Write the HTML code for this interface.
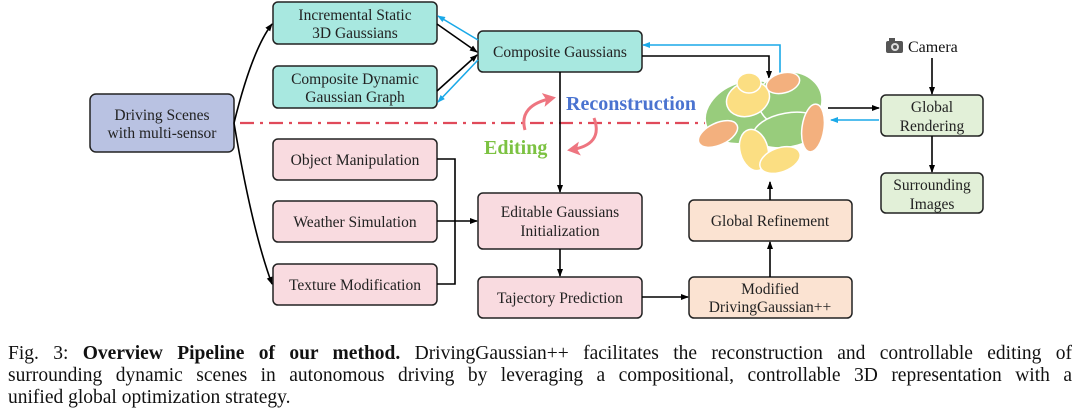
<!DOCTYPE html>
<html><head><meta charset="utf-8"><style>
html,body{margin:0;padding:0;background:#fff;width:1080px;height:418px;overflow:hidden}
svg text{font-family:"Liberation Serif",serif}
.cap{position:absolute;left:8px;top:343px;width:1064px;font-family:"Liberation Serif",serif;font-size:19.5px;line-height:22px;color:#111}
.cap div{white-space:nowrap}
.j{text-align:justify;text-align-last:justify}
</style></head><body>
<svg width="1080" height="340" style="position:absolute;left:0;top:0" xmlns="http://www.w3.org/2000/svg">
<defs>
<marker id="ak" markerWidth="8" markerHeight="8" refX="7" refY="4" orient="auto" markerUnits="userSpaceOnUse"><path d="M0,1 L8,4 L0,7 Z" fill="#000"/></marker>
<marker id="ab" markerWidth="8" markerHeight="8" refX="7" refY="4" orient="auto" markerUnits="userSpaceOnUse"><path d="M0,1 L8,4 L0,7 Z" fill="#1aa9e8"/></marker>
<marker id="ar" markerWidth="14" markerHeight="14" refX="10" refY="7" orient="auto" markerUnits="userSpaceOnUse"><path d="M0,0 L13,7 L0,14 L3,7 Z" fill="#ee7580"/></marker>
</defs>
<g stroke="#222" stroke-width="1.5">
<rect x="90" y="94" width="144" height="58" rx="6" fill="#b9c2e2"/>
<rect x="273" y="2" width="164" height="42" rx="5" fill="#a8e8e0"/>
<rect x="273" y="66" width="164" height="42" rx="5" fill="#a8e8e0"/>
<rect x="478" y="31" width="164" height="41" rx="5" fill="#a8e8e0"/>
<rect x="273" y="139" width="164" height="41" rx="5" fill="#f9dbe0"/>
<rect x="273" y="201" width="164" height="41" rx="5" fill="#f9dbe0"/>
<rect x="273" y="264" width="164" height="41" rx="5" fill="#f9dbe0"/>
<rect x="478" y="193" width="164" height="56" rx="5" fill="#f9dbe0"/>
<rect x="478" y="277" width="164" height="41" rx="5" fill="#f9dbe0"/>
<rect x="689" y="200" width="163" height="41" rx="5" fill="#fbe3d2"/>
<rect x="689" y="277" width="163" height="41" rx="5" fill="#fbe3d2"/>
<rect x="881" y="95" width="102" height="41" rx="5" fill="#e2f0d8"/>
<rect x="881" y="173" width="102" height="40" rx="5" fill="#e2f0d8"/>
</g>
<line x1="240" y1="123" x2="705" y2="123" stroke="#e04a5a" stroke-width="2.2" stroke-dasharray="14,6,3,6"/>
<g fill="none" stroke="#000" stroke-width="1.6">
<path d="M234,123 Q252,50 272,24" marker-end="url(#ak)"/>
<path d="M234,123 Q252,230 272,284" marker-end="url(#ak)"/>
<path d="M437,24 L477,52" marker-end="url(#ak)"/>
<path d="M437,91 L477,55" marker-end="url(#ak)"/>
<path d="M642,56 L769,56 L769,78" marker-end="url(#ak)"/>
<path d="M560,72 L560,192" marker-end="url(#ak)"/>
<path d="M437,159 L455,159 L455,284 L437,284"/>
<path d="M437,221 L477,221" marker-end="url(#ak)"/>
<path d="M560,249 L560,276" marker-end="url(#ak)"/>
<path d="M642,297 L688,297" marker-end="url(#ak)"/>
<path d="M770,277 L770,242" marker-end="url(#ak)"/>
<path d="M770,200 L770,182" marker-end="url(#ak)"/>
<path d="M828,108 L879,108" marker-end="url(#ak)"/>
<path d="M932,58 L932,94" marker-end="url(#ak)"/>
<path d="M932,136 L932,172" marker-end="url(#ak)"/>
</g>
<g fill="none" stroke="#1aa9e8" stroke-width="1.6">
<path d="M478,40 L438,16" marker-end="url(#ab)"/>
<path d="M478,60 L438,102" marker-end="url(#ab)"/>
<path d="M780,75 L780,45 L643,45" marker-end="url(#ab)"/>
<path d="M879,120 L831,120" marker-end="url(#ab)"/>
</g>
<path d="M525,130 Q518,105 553,98" fill="none" stroke="#ee7580" stroke-width="3" marker-end="url(#ar)"/>
<path d="M594,118 Q604,145 570,150" fill="none" stroke="#ee7580" stroke-width="3" marker-end="url(#ar)"/>
<text x="566" y="110" font-size="20" font-weight="bold" fill="#4a73d0">Reconstruction</text>
<text x="484" y="154" font-size="20" font-weight="bold" fill="#7cc242">Editing</text>
<g stroke="#fff" stroke-width="1.5">
<ellipse cx="746" cy="112" rx="42" ry="30" fill="#98cc7c" transform="rotate(-20 746 112)"/>
<ellipse cx="790" cy="100" rx="32" ry="28" fill="#98cc7c"/>
<ellipse cx="788" cy="130" rx="35" ry="17" fill="#98cc7c" transform="rotate(-10 788 130)"/>
<ellipse cx="748" cy="99" rx="17" ry="22" fill="#fbde82" transform="rotate(70 748 99)"/>
<ellipse cx="749" cy="83" rx="12" ry="10" fill="#fbde82"/>
<ellipse cx="783" cy="83" rx="17" ry="10" fill="#f3b07e" transform="rotate(-15 783 83)"/>
<ellipse cx="813" cy="128" rx="11" ry="24" fill="#f3b07e" transform="rotate(8 813 128)"/>
<ellipse cx="718" cy="134" rx="21" ry="11" fill="#f3b07e" transform="rotate(-25 718 134)"/>
<ellipse cx="754" cy="150" rx="14" ry="21" fill="#fbde82" transform="rotate(-15 754 150)"/>
<ellipse cx="780" cy="160" rx="21" ry="12" fill="#fbde82" transform="rotate(-20 780 160)"/>
</g>
<rect x="886" y="41" width="17" height="12" rx="2" fill="#555"/>
<rect x="889" y="38" width="6" height="4" fill="#555"/>
<circle cx="895" cy="47" r="4" fill="#ddd"/><circle cx="895" cy="47" r="2" fill="#555"/>
<text x="908" y="52" font-size="16" fill="#111">Camera</text>
<g font-size="15.5" fill="#222" text-anchor="middle">
<text x="162" y="120">Driving Scenes</text><text x="162" y="138">with multi-sensor</text>
<text x="355" y="20">Incremental Static</text><text x="355" y="38">3D Gaussians</text>
<text x="355" y="84">Composite Dynamic</text><text x="355" y="102">Gaussian Graph</text>
<text x="560" y="57">Composite Gaussians</text>
<text x="355" y="165">Object Manipulation</text>
<text x="355" y="227">Weather Simulation</text>
<text x="355" y="290">Texture Modification</text>
<text x="560" y="217">Editable Gaussians</text><text x="560" y="236">Initialization</text>
<text x="560" y="303">Tajectory Prediction</text>
<text x="770" y="226">Global Refinement</text>
<text x="770" y="294">Modified</text><text x="770" y="312">DrivingGaussian++</text>
<text x="932" y="112">Global</text><text x="932" y="131">Rendering</text>
<text x="932" y="190">Surrounding</text><text x="932" y="209">Images</text>
</g>
</svg>
<div class="cap">
<div class="j" style="white-space:normal">Fig. 3: <b>Overview Pipeline of our method.</b> DrivingGaussian++ facilitates the reconstruction and controllable editing of</div>
<div class="j" style="white-space:normal">surrounding dynamic scenes in autonomous driving by leveraging a compositional, controllable 3D representation with a</div>
<div>unified global optimization strategy.</div>
</div>
</body></html>
